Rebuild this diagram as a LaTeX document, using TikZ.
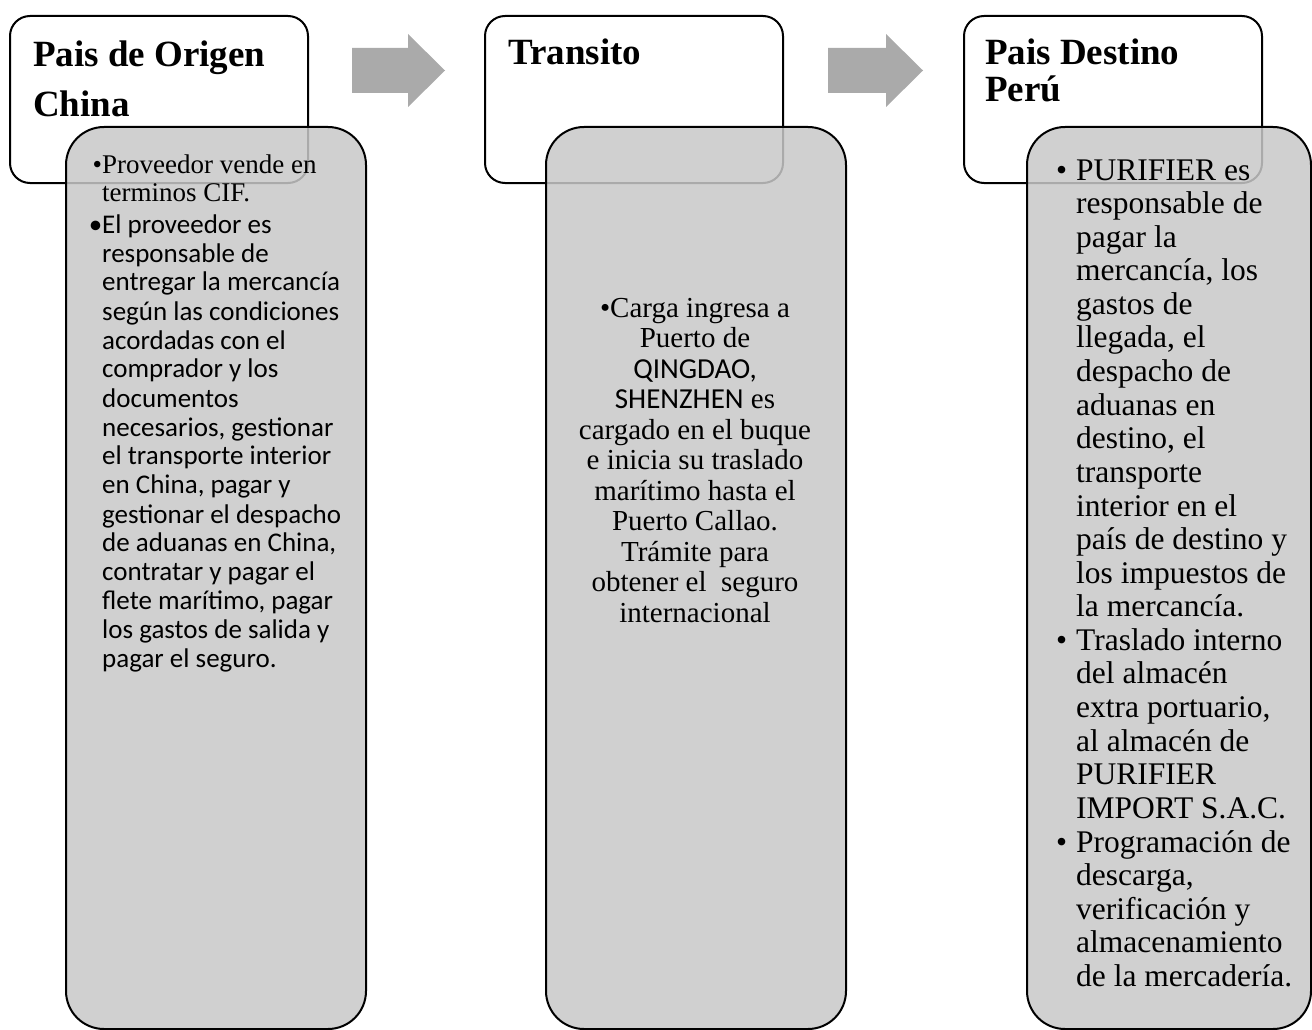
\documentclass[tikz,border=0pt]{standalone}
\usepackage{fontspec}
\setmainfont{Liberation Serif}
\newfontfamily\calibri{Carlito}
\definecolor{boxgray}{RGB}{200,200,200}
\definecolor{arrowgray}{RGB}{170,170,170}
% stacked lines whose reference point is the baseline of the first line
\newcommand\linesleft[1]{\vtop{\halign{##\hfil\cr#1\crcr}}}
\newcommand\linescentre[1]{\vtop{\halign{\hfil##\hfil\cr#1\crcr}}}
\begin{document}
\begin{tikzpicture}[x=1pt,y=-1pt,
  titlebox/.style={draw=black, line width=2pt, rounded corners=20pt, fill=white,
    minimum width=298pt, minimum height=167pt, anchor=north west, inner sep=0pt},
  detailbox/.style={draw=black, line width=2pt, rounded corners=38pt, fill=boxgray,
    fill opacity=0.85, minimum height=902pt, anchor=north west, inner sep=0pt},
  blockarrow/.style={fill=arrowgray},
  heading/.style={font=\fontsize{37}{40}\selectfont\bfseries, anchor=base west, inner sep=0pt},
  textblock/.style={inner sep=0pt},
  serifA/.style={font=\fontsize{27}{28.5}\selectfont},
  sansA/.style={font=\fontsize{27}{29}\selectfont\calibri},
  serifB/.style={font=\fontsize{29}{30.5}\selectfont},
  serifC/.style={font=\fontsize{31.5}{33.6}\selectfont}]
\useasboundingbox (0,0) rectangle (1312,1030);

% stage frames
\node[titlebox] (orig) at (9,15) {};
\node[titlebox] (tran) at (484,15) {};
\node[titlebox] (dest) at (963,15) {};

% detail panels, laid over the frames
\node[detailbox, minimum width=300pt] (origd) at (65,126) {};
\node[detailbox, minimum width=300pt] (trand) at (545,126) {};
\node[detailbox, minimum width=284pt] (destd) at (1026,126) {};

% block arrows between the stages
\fill[blockarrow] (352,48) -- (408,48) -- (408,34) -- (445,70.5) -- (408,107) -- (408,93) -- (352,93) -- cycle;
\fill[blockarrow] (828,48) -- (886,48) -- (886,34) -- (923,70.5) -- (886,107) -- (886,93) -- (828,93) -- cycle;

% headings
\node[heading] (h1a) at (33,67) {Pais de Origen};
\node[heading] (h1b) at (33,117) {China};
\node[heading] (h2) at (508,65) {Transito};
\node[heading] (h3a) at (985,65) {Pais Destino};
\node[heading] (h3b) at (985,102) {Perú};

% origin details
\node[textblock, anchor=base west, serifA] (o1) at (102,173)
  {\linesleft{\llap{•}Proveedor vende en\cr terminos CIF.}};
\node[textblock, anchor=base west, sansA] (o2) at (102,233)
  {\linesleft{\llap{•}El proveedor es\cr responsable de\cr entregar la mercancía\cr según las condiciones\cr acordadas con el\cr comprador y los\cr documentos\cr necesarios, gestionar\cr el transporte interior\cr en China, pagar y\cr gestionar el despacho\cr de aduanas en China,\cr contratar y pagar el\cr flete marítimo, pagar\cr los gastos de salida y\cr pagar el seguro.}};

% transit details
\node[textblock, anchor=base, serifB] (t1) at (695,317)
  {\linescentre{•Carga ingresa a\cr Puerto de\cr {\calibri QINGDAO,}\cr {\calibri SHENZHEN} es\cr cargado en el buque\cr e inicia su traslado\cr marítimo hasta el\cr Puerto Callao.\cr Trámite para\cr obtener el\ \ seguro\cr internacional}};

% destination details
\node[textblock, anchor=base west, serifC] (d1) at (1076,180)
  {\linesleft{\llap{•\hspace{9pt}}PURIFIER es\cr responsable de\cr pagar la\cr mercancía, los\cr gastos de\cr llegada, el\cr despacho de\cr aduanas en\cr destino, el\cr transporte\cr interior en el\cr país de destino y\cr los impuestos de\cr la mercancía.\cr \llap{•\hspace{9pt}}Traslado interno\cr del almacén\cr extra portuario,\cr al almacén de\cr PURIFIER\cr IMPORT S.A.C.\cr \llap{•\hspace{9pt}}Programación de\cr descarga,\cr verificación y\cr almacenamiento\cr de la mercadería.}};
\end{tikzpicture}
\end{document}
